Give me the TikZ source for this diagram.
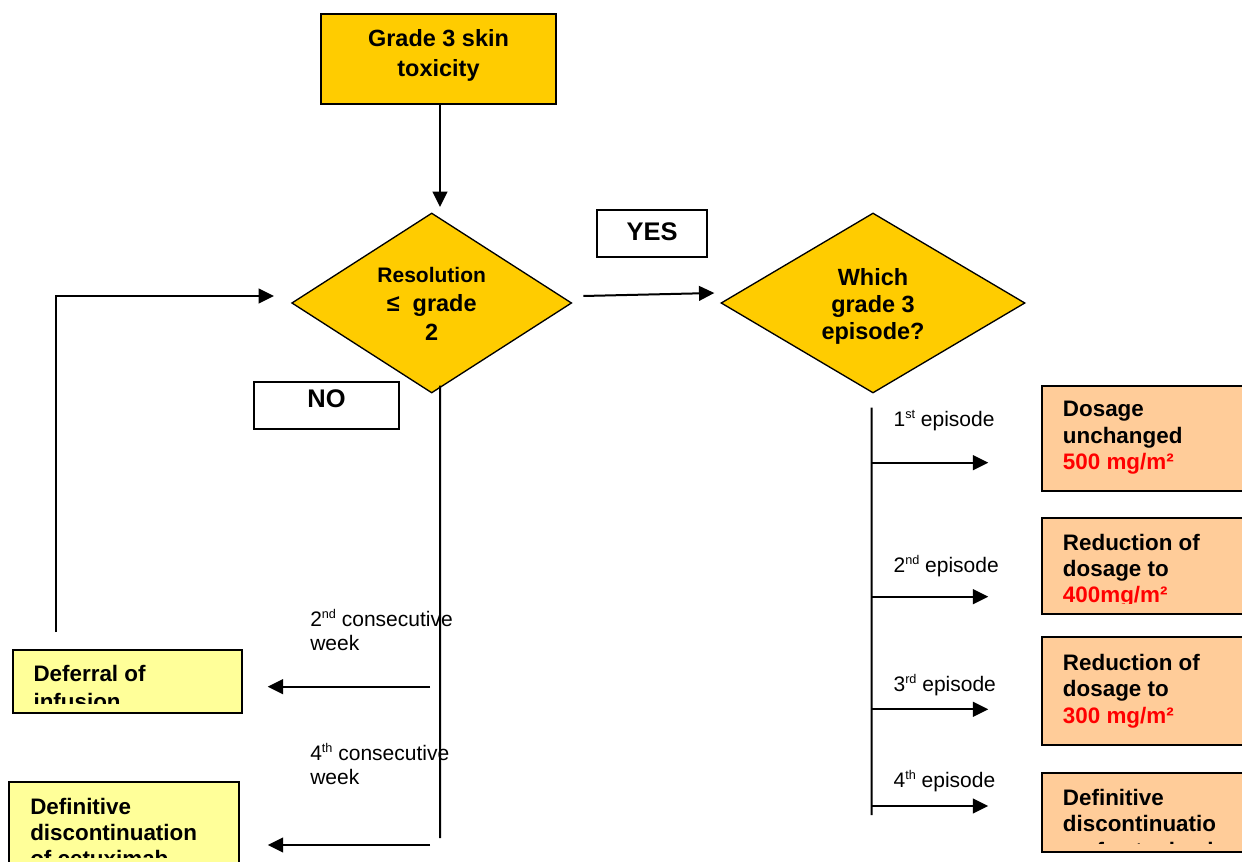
\documentclass[tikz,border=0pt]{standalone}
\usepackage{fontspec}
\setmainfont{Liberation Sans}
\usetikzlibrary{shapes.geometric,arrows.meta,calc}
\definecolor{gold}{HTML}{FFCC00}
\definecolor{peach}{HTML}{FFCC99}
\definecolor{paleyel}{HTML}{FFFF99}
\definecolor{dosered}{HTML}{FF0000}
\newcommand\mlL[2][0pt]{\vtop{\halign{##\hfil\cr#2\crcr}\vskip#1}}
\newcommand\mlC[2][0pt]{\vtop{\halign{\hfil##\hfil\cr#2\crcr}\vskip#1}}
\newcommand\sups[1]{\raisebox{6pt}{\fontsize{9.5}{10}\selectfont #1}}
\newcommand\dbig{\fontsize{17.6}{21.5}\selectfont}
\begin{document}
\begin{tikzpicture}[x=0.75pt,y=-0.75pt,
  box/.style={draw=black, line width=1.5pt, rectangle, inner sep=0pt},
  dia/.style={diamond, draw=black, line width=1pt, fill=gold, inner sep=0pt},
  conn/.style={line width=1.5pt, -{Triangle[length=11.5pt,width=11pt]}},
  plain/.style={line width=1.5pt},
  boxtxt/.style={inner sep=0pt, anchor=base west, font=\fontsize{16.8}{19.7}\selectfont\bfseries},
  lbl/.style={inner sep=0pt, anchor=base west, font=\fontsize{15.75}{18.4}\selectfont}]
\useasboundingbox (0,0) rectangle (1242,862);
\clip (0,0) rectangle (1242,862);

% top box
\node[box, fill=gold, minimum width=176.25pt, minimum height=67.5pt,
  font=\fontsize{17.6}{22.5}\selectfont\bfseries] (top) at (438.5,59)
  {\mlC[5.9pt]{Grade 3 skin\cr toxicity}};

% diamonds
\node[dia, minimum width=210pt, minimum height=135pt,
  font=\fontsize{15.75}{21.5}\selectfont\bfseries] (d1) at (431.7,303)
  {\mlC[-1.5pt]{Resolution\cr {\dbig ≤\ \ grade}\cr {\dbig 2}}};
\node[dia, minimum width=228pt, minimum height=135pt,
  font=\fontsize{17.6}{20.25}\selectfont\bfseries] (d2) at (873,303)
  {\mlC[-5.4pt]{Which\cr grade 3\cr episode?}};

% YES / NO
\node[box, fill=white, minimum width=82.5pt, minimum height=35.25pt,
  font=\fontsize{19.1}{23}\selectfont\bfseries] (yes) at (652,233.5) {\mlC[3pt]{YES}};
\node[box, fill=white, minimum width=108.75pt, minimum height=35.25pt,
  font=\fontsize{19.1}{23}\selectfont\bfseries] (no) at (326.5,405.5) {\mlC[10pt]{NO}};

% right boxes
\node[box, fill=peach, minimum width=193.5pt, minimum height=78.75pt] (r1) at (1171,438.5) {};
\node[box, fill=peach, minimum width=193.5pt, minimum height=72.2pt] (r2) at (1171,565.8) {};
\node[box, fill=peach, minimum width=193.5pt, minimum height=81pt] (r3) at (1171,691) {};
\node[box, fill=peach, minimum width=193.5pt, minimum height=59.25pt] (r4) at (1171,812.5) {};

\node[boxtxt] (r1t) at (1062.7,417) {\mlL{Dosage\cr unchanged\cr \textcolor{dosered}{500 mg/m²}}};
\begin{scope}
  \clip (1043,519) rectangle (1242,603);
  \node[boxtxt] (r2t) at (1062.7,550) {\mlL{Reduction of\cr dosage to\cr \textcolor{dosered}{400mg/m²}}};
\end{scope}
\node[boxtxt] (r3t) at (1062.7,670.7) {\mlL{Reduction of\cr dosage to\cr \textcolor{dosered}{300 mg/m²}}};
\begin{scope}
  \clip (1043,774) rectangle (1242,843);
  \node[boxtxt] (r4t) at (1062.7,805.7) {\mlL{Definitive\cr discontinuatio\cr n of cetuximab}};
\end{scope}

% left boxes
\node[box, fill=paleyel, minimum width=172.2pt, minimum height=47.5pt] (l1) at (127.5,681.7) {};
\node[box, fill=paleyel, minimum width=172.5pt, minimum height=88.7pt] (l2) at (124,840.8) {};
\begin{scope}
  \clip (14,651) rectangle (241,703);
  \node[boxtxt, font=\fontsize{16.8}{21}\selectfont\bfseries] (l1t) at (33.3,681.7) {\mlL{Deferral of\cr infusion}};
\end{scope}
\begin{scope}
  \clip (10,783) rectangle (238,857);
  \node[boxtxt] (l2t) at (30,814) {\mlL{Definitive\cr discontinuation\cr of cetuximab}};
\end{scope}

% labels
\node[lbl] (e1) at (893.3,426.7) {1\sups{st} episode};
\node[lbl] (e2) at (893.3,572.3) {2\sups{nd} episode};
\node[lbl] (e3) at (893.3,691.7) {3\sups{rd} episode};
\node[lbl] (e4) at (893.3,787.3) {4\sups{th} episode};
\node[lbl] (c2) at (310,626) {\mlL{2\sups{nd} consecutive\cr week}};
\node[lbl] (c4) at (310,760) {\mlL{4\sups{th} consecutive\cr week}};

% connectors
\coordinate (t1) at (440,207);
\draw[conn] (top.south -| t1) -- (t1);
\draw[conn] ([shift={(11,-7)}]d1.east) -- ([shift={(-6,-10)}]d2.west);
\coordinate (lp) at (56,632);
\draw[conn] (lp) |- ([shift={(-17,-7)}]d1.west);

% NO branch
\coordinate (nb) at (440,838);
\draw[plain] ([shift={(8.3,-8)}]d1.south) -- (nb);
\coordinate (n1) at (430,686.7);
\coordinate (n2) at (430,845);
\draw[conn] (n1) -- ($(l1.east |- n1)+(24.4,0)$);
\draw[conn] (n2) -- ($(l2.east |- n2)+(27.7,0)$);

% episode branch
\coordinate (vb) at (871.7,815);
\draw[plain] ([shift={(-1.3,14)}]d2.south) -- (vb);
\coordinate (a1) at (871.7,462.7);
\coordinate (a2) at (871.7,596.7);
\coordinate (a3) at (871.7,709.3);
\coordinate (a4) at (871.7,806);
\draw[conn] (a1) -- ($(r1.west |- a1)+(-52.7,0)$);
\draw[conn] (a2) -- ($(r2.west |- a2)+(-52.7,0)$);
\draw[conn] (a3) -- ($(r3.west |- a3)+(-52.7,0)$);
\draw[conn] (a4) -- ($(r4.west |- a4)+(-52.7,0)$);
\end{tikzpicture}
\end{document}
